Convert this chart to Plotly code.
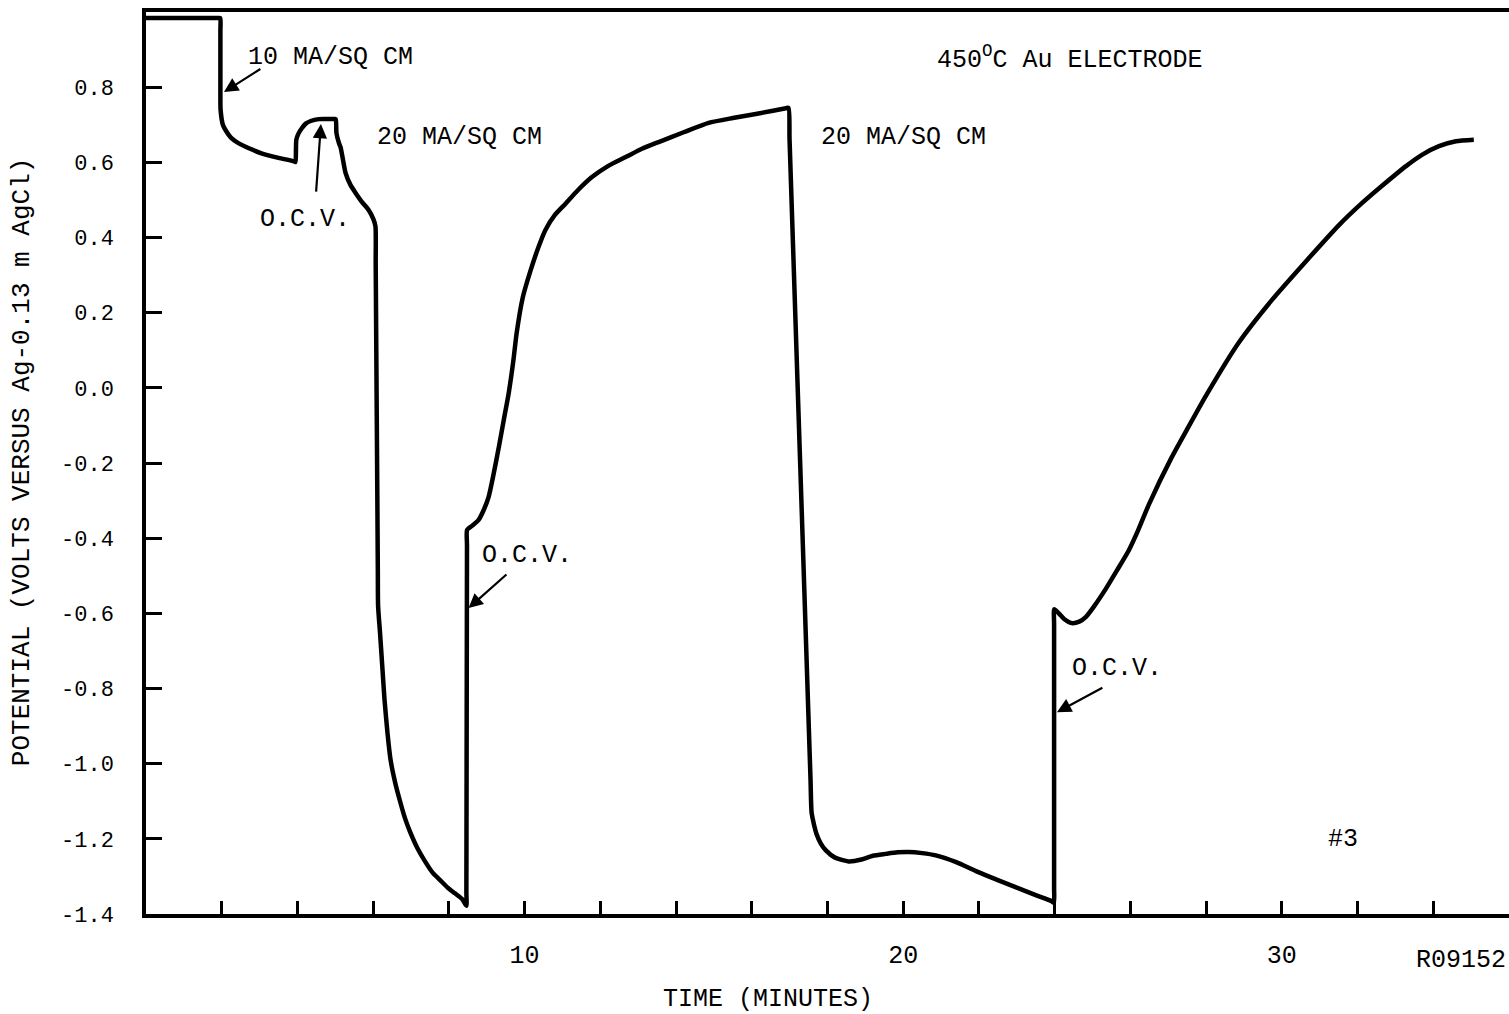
import plotly.graph_objects as go

# Potential transient of the Au electrode at 450 C (time in minutes, potential in volts)
time_min = [
    0.00, 1.00, 1.90, 1.96, 1.965, 1.965, 1.97, 2.03, 2.10, 2.25, 2.44, 2.75, 3.05, 3.50, 3.93, 3.95,
    3.96, 3.97, 4.02, 4.11, 4.22, 4.35, 4.56, 4.95, 5.01,
    5.03, 5.10, 5.14, 5.27, 5.40, 5.54, 5.70, 5.88, 6.00, 6.06,
    6.067, 6.123, 6.13, 6.18, 6.24, 6.30, 6.38, 6.46, 6.58, 6.71, 6.84, 6.97, 7.17, 7.37, 7.57, 7.77,
    7.97, 8.16, 8.35, 8.46,
    8.462, 8.478, 8.48, 8.60, 8.78, 8.92, 9.05, 9.18, 9.32, 9.45, 9.58, 9.70, 9.79, 9.95,
    10.16, 10.35, 10.55, 10.80, 11.08, 11.40, 11.77, 12.20, 12.67, 13.10, 13.54,
    14.20, 14.86, 15.50, 16.18, 16.90, 16.97,
    16.998, 17.551, 17.58, 17.65, 17.71, 17.82, 17.95, 18.20, 18.56, 18.90, 19.20, 19.54, 19.85,
    20.15, 20.50, 20.86, 21.40, 21.92, 22.50, 23.00, 23.50, 23.92, 23.98,
    23.985, 23.985, 23.99, 24.11, 24.25, 24.45, 24.65, 24.82, 25.05, 25.35, 25.65, 25.96, 26.20,
    26.49, 27.09, 27.50, 27.99, 28.86, 29.74, 30.64, 31.51, 32.10, 32.64, 33.28,
    33.70, 34.15, 34.60, 35.07,
]
potential_v = [
    0.984, 0.984, 0.984, 0.984, 0.950, 0.780, 0.740, 0.700, 0.686, 0.665, 0.651, 0.636, 0.624, 0.612, 0.602, 0.601,
    0.630, 0.660, 0.675, 0.690, 0.703, 0.710, 0.715, 0.715, 0.715,
    0.678, 0.650, 0.640, 0.572, 0.540, 0.518, 0.495, 0.473, 0.450, 0.430,
    0.330, -0.480, -0.580, -0.650, -0.740, -0.830, -0.920, -0.990, -1.050, -1.100, -1.145, -1.180, -1.225, -1.260, -1.290, -1.310,
    -1.330, -1.345, -1.360, -1.378,
    -1.340, -0.420, -0.378, -0.368, -0.352, -0.325, -0.290, -0.230, -0.157, -0.085, -0.014, 0.070, 0.146, 0.240,
    0.313, 0.370, 0.420, 0.460, 0.490, 0.525, 0.560, 0.590, 0.614, 0.636, 0.654,
    0.680, 0.705, 0.718, 0.730, 0.744, 0.745,
    0.660, -1.040, -1.130, -1.165, -1.187, -1.212, -1.230, -1.250, -1.260, -1.255, -1.245, -1.240, -1.236,
    -1.235, -1.238, -1.244, -1.262, -1.286, -1.310, -1.330, -1.350, -1.366, -1.370,
    -1.330, -0.630, -0.589, -0.600, -0.615, -0.626, -0.622, -0.610, -0.580, -0.535, -0.485, -0.432, -0.380,
    -0.310, -0.185, -0.110, -0.022, 0.120, 0.234, 0.337, 0.433, 0.490, 0.537, 0.590,
    0.620, 0.643, 0.656, 0.660,
]

x_tick_vals = list(range(2, 36, 2))
x_tick_text = [str(v) if v % 10 == 0 else "" for v in x_tick_vals]
y_tick_vals = [-1.4, -1.2, -1.0, -0.8, -0.6, -0.4, -0.2, 0.0, 0.2, 0.4, 0.6, 0.8]
y_tick_text = ["%.1f" % v for v in y_tick_vals]

# Text labels: (text, time, potential)
labels = [
    ("10 MA/SQ CM", 4.86, 0.880),
    ("20 MA/SQ CM", 8.27, 0.667),
    ("20 MA/SQ CM", 20.02, 0.667),
    ("450<sup>O</sup>C Au ELECTRODE", 24.41, 0.878),
    ("O.C.V.", 4.20, 0.447),
    ("O.C.V.", 10.06, -0.445),
    ("O.C.V.", 25.65, -0.746),
    ("#3", 31.62, -1.203),
]
# Pointer arrows: (tip time, tip potential, tail time, tail potential)
pointers = [
    (2.06, 0.787, 3.06, 0.851),
    (4.62, 0.702, 4.49, 0.518),
    (8.52, -0.586, 9.56, -0.493),
    (24.06, -0.863, 25.30, -0.796),
]

FONT = "Liberation Mono, Courier New, monospace"

fig = go.Figure()
fig.add_trace(go.Scatter(
    x=time_min, y=potential_v, mode="lines",
    line=dict(color="black", width=4.5, shape="spline", smoothing=0.6),
    showlegend=False, hoverinfo="skip",
))

annotations = []
for text, tx, ty in labels:
    annotations.append(dict(
        x=tx, y=ty, xref="x", yref="y", text=text, showarrow=False,
        font=dict(family=FONT, size=25, color="black"),
        xanchor="center", yanchor="middle",
    ))
for hx, hy, tx, ty in pointers:
    annotations.append(dict(
        x=hx, y=hy, xref="x", yref="y", ax=tx, ay=ty, axref="x", ayref="y",
        text="", showarrow=True, arrowhead=2, arrowsize=1.3, arrowwidth=2.2,
        arrowcolor="black", standoff=0,
    ))
# Axis titles and drawing number
annotations += [
    dict(x=0.4563, y=-0.0953, xref="paper", yref="paper", text="TIME (MINUTES)",
         showarrow=False, font=dict(family=FONT, size=25, color="black"),
         xanchor="center", yanchor="middle"),
    dict(x=-0.091, y=0.502, xref="paper", yref="paper",
         text="POTENTIAL (VOLTS VERSUS Ag-0.13 m AgCl)", textangle=-90,
         showarrow=False, font=dict(family=FONT, size=26, color="black"),
         xanchor="center", yanchor="middle"),
    dict(x=0.9648, y=-0.0521, xref="paper", yref="paper", text="R09152",
         showarrow=False, font=dict(family=FONT, size=25, color="black"),
         xanchor="center", yanchor="middle"),
]

fig.update_layout(
    width=1509, height=1014,
    margin=dict(l=146, r=0, t=12, b=100),
    paper_bgcolor="white", plot_bgcolor="white",
    annotations=annotations,
    xaxis=dict(
        range=[0, 36], showgrid=False, zeroline=False,
        showline=True, linecolor="black", linewidth=3.5, mirror=True,
        ticks="inside", ticklen=13, tickwidth=2.5, tickcolor="black",
        tickvals=x_tick_vals, ticktext=x_tick_text, ticklabelstandoff=15,
        tickfont=dict(family=FONT, size=25, color="black"),
    ),
    yaxis=dict(
        range=[-1.4, 1.0], showgrid=False, zeroline=False,
        showline=True, linecolor="black", linewidth=3.5, mirror=False,
        ticks="inside", ticklen=16, tickwidth=2.5, tickcolor="black",
        tickvals=y_tick_vals, ticktext=y_tick_text, ticklabelstandoff=24,
        tickfont=dict(family=FONT, size=22, color="black"),
    ),
)

fig.write_html("out.html")
